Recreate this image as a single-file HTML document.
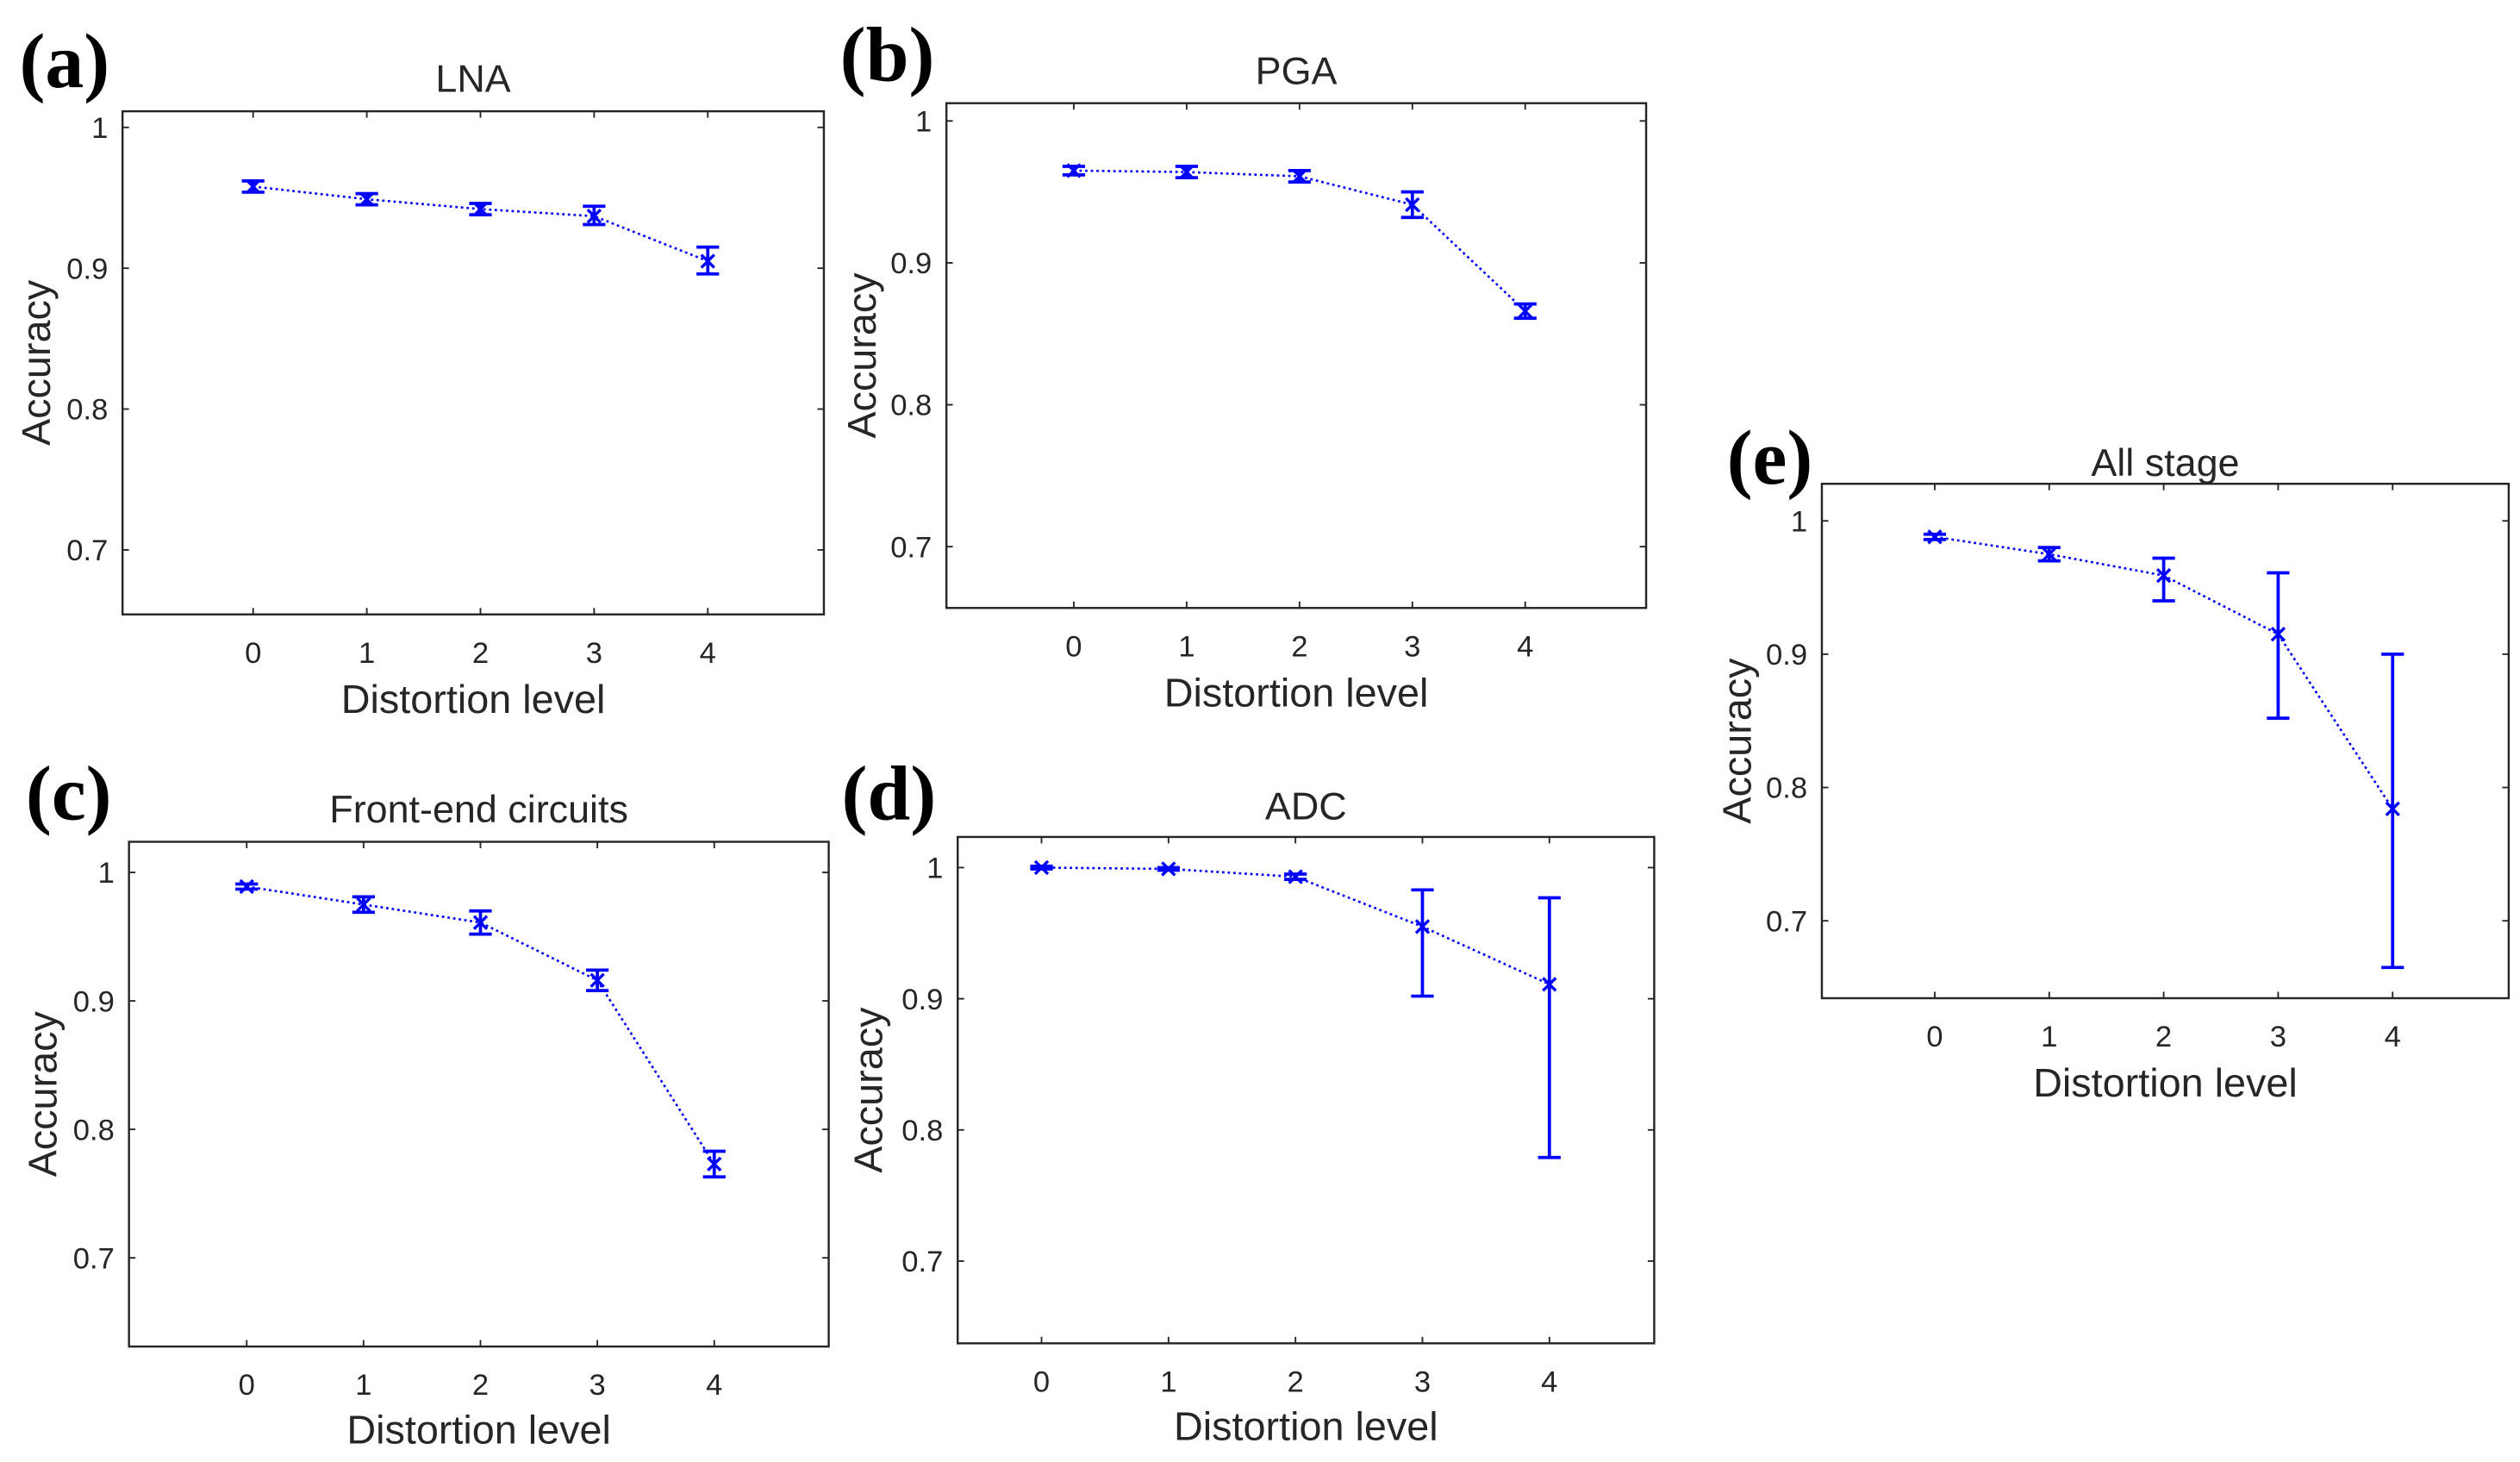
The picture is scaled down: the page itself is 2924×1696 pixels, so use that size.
<!DOCTYPE html>
<html><head><meta charset="utf-8">
<style>
html,body{margin:0;padding:0;background:#fff;}
svg{display:block;}
text{font-family:"Liberation Sans",Arial,sans-serif;fill:#262626;}
.pl{font-family:"Liberation Serif","Times New Roman",serif;font-weight:bold;fill:#000;}
</style></head>
<body>
<svg id="fig" width="2924" height="1696" viewBox="0 0 1563 906.6" preserveAspectRatio="none" xmlns="http://www.w3.org/2000/svg"></svg>
<script>
// ---- data ----
const levels = [0, 1, 2, 3, 4];
const yTicks = [0.7, 0.8, 0.9, 1];
const yTickLabels = ["0.7", "0.8", "0.9", "1"];
const lnaMean = [0.958, 0.949, 0.942, 0.937, 0.905];
const lnaLow  = [0.954, 0.945, 0.938, 0.931, 0.896];
const lnaHigh = [0.962, 0.953, 0.946, 0.944, 0.915];
const pgaMean = [0.965, 0.964, 0.961, 0.941, 0.866];
const pgaLow  = [0.962, 0.960, 0.957, 0.932, 0.861];
const pgaHigh = [0.968, 0.968, 0.965, 0.950, 0.871];
const feMean = [0.989, 0.975, 0.961, 0.916, 0.773];
const feLow  = [0.987, 0.969, 0.952, 0.908, 0.763];
const feHigh = [0.991, 0.981, 0.970, 0.924, 0.783];
const adcMean = [1.000, 0.999, 0.993, 0.955, 0.911];
const adcLow  = [0.999, 0.998, 0.991, 0.902, 0.779];
const adcHigh = [1.001, 1.000, 0.995, 0.983, 0.977];
const allMean = [0.988, 0.975, 0.959, 0.915, 0.784];
const allLow  = [0.986, 0.970, 0.940, 0.852, 0.665];
const allHigh = [0.990, 0.980, 0.972, 0.961, 0.900];

const NS = "http://www.w3.org/2000/svg";
const svg = document.getElementById("fig");
function mk(tag, attrs, parent) {
  const e = document.createElementNS(NS, tag);
  for (const k in attrs) e.setAttribute(k, attrs[k]);
  (parent || svg).appendChild(e);
  return e;
}
function panel(p) {
  const g = mk("g", {});
  
  
  const xs = v => p.x0 + (v - p.xmin) / (p.xmax - p.xmin) * (p.x1 - p.x0);
  const ys = v => p.y1 - (v - p.ymin) / (p.ymax - p.ymin) * (p.y1 - p.y0);
  const box = mk("rect", {x: p.x0, y: p.y0, width: p.x1 - p.x0, height: p.y1 - p.y0, fill: "none", stroke: "#262626", "stroke-width": 1.3}, g);
  
  
  yTicks.forEach((t, i) => {
    const y = ys(t);
    mk("line", {x1: p.x0, x2: p.x0 + 4, y1: y, y2: y, stroke: "#262626", "stroke-width": 1}, g);
    mk("line", {x1: p.x1, x2: p.x1 - 4, y1: y, y2: y, stroke: "#262626", "stroke-width": 1}, g);
    const tl = mk("text", {x: p.x0 - 9, y: y + 6.5, "text-anchor": "end", "font-size": 18.5}, g);
    tl.textContent = yTickLabels[i];
    
    
  });
  levels.forEach(l => {
    const x = xs(l);
    mk("line", {x1: x, x2: x, y1: p.y1, y2: p.y1 - 4, stroke: "#262626", "stroke-width": 1}, g);
    mk("line", {x1: x, x2: x, y1: p.y0, y2: p.y0 + 4, stroke: "#262626", "stroke-width": 1}, g);
    const tl = mk("text", {x: x, y: p.y1 + 30, "text-anchor": "middle", "font-size": 18.5}, g);
    tl.textContent = String(l);
    
    
  });
  const pts = levels.map((l, i) => xs(l) + "," + ys(p.mean[i])).join(" ");
  const line = mk("polyline", {points: pts, fill: "none", stroke: "#0000ff", "stroke-width": 1.4, "stroke-dasharray": "1.5 2"}, g);
  
  
  levels.forEach((l, i) => {
    const x = xs(l), yl = ys(p.low[i]), yh = ys(p.high[i]), ym = ys(p.mean[i]);
    const eg = mk("g", {stroke: "#0000ff", "stroke-width": 2}, g);
    
    
    mk("line", {x1: x, x2: x, y1: yl, y2: yh}, eg);
    mk("line", {x1: x - 7, x2: x + 7, y1: yl, y2: yl}, eg);
    mk("line", {x1: x - 7, x2: x + 7, y1: yh, y2: yh}, eg);
    const m = mk("path", {d: `M${x-4},${ym-4}L${x+4},${ym+4}M${x-4},${ym+4}L${x+4},${ym-4}`, "stroke-width": 1.8}, eg);
    
    
  });
  const t = mk("text", {x: (p.x0 + p.x1) / 2, y: p.ty, "text-anchor": "middle", "font-size": 24, fill: "#000"}, g);
  t.textContent = p.title;
  
  
  const xl = mk("text", {x: (p.x0 + p.x1) / 2, y: p.xly, "text-anchor": "middle", "font-size": 25}, g);
  xl.textContent = "Distortion level";
  
  
  const cy = (p.y0 + p.y1) / 2;
  const yl = mk("text", {x: p.ylx, y: cy, "text-anchor": "middle", "font-size": 25, transform: `rotate(-90 ${p.ylx} ${cy})`}, g);
  yl.textContent = "Accuracy";
  
  
  const pl = mk("text", {x: p.lx, y: p.ly, "font-size": 48, class: "pl"}, g);
  pl.textContent = "(" + p.id + ")";
  
  
}
function yr(y1v, y07, top, bot) {
  const ppu = (y07 - y1v) / 0.3;
  return {ymax: 1 + (y1v - top) / ppu, ymin: 0.7 - (bot - y07) / ppu};
}
function xr(x0v, x4v, left, right) {
  const ppu = (x4v - x0v) / 4;
  return {xmin: -(x0v - left) / ppu, xmax: 4 + (right - x4v) / ppu};
}
const specs = [
  {id: "a", title: "LNA", mean: lnaMean, low: lnaLow, high: lnaHigh, x0: 76, x1: 511, y0: 69, y1: 381, yt: [79, 341], xt: [157, 439], ty: 57, xly: 442, ylx: 31, lx: 12, ly: 54},
  {id: "b", title: "PGA", mean: pgaMean, low: pgaLow, high: pgaHigh, x0: 587, x1: 1021, y0: 64, y1: 377, yt: [75, 339], xt: [666, 946], ty: 52, xly: 438, ylx: 543, lx: 521, ly: 50},
  {id: "c", title: "Front-end circuits", mean: feMean, low: feLow, high: feHigh, x0: 80, x1: 514, y0: 522, y1: 835, yt: [541, 780], xt: [153, 443], ty: 510, xly: 895, ylx: 35, lx: 16, ly: 508},
  {id: "d", title: "ADC", mean: adcMean, low: adcLow, high: adcHigh, x0: 594, x1: 1026, y0: 519, y1: 833, yt: [538, 782], xt: [646, 961], ty: 508, xly: 893, ylx: 547, lx: 522, ly: 508},
  {id: "e", title: "All stage", mean: allMean, low: allLow, high: allHigh, x0: 1130, x1: 1556, y0: 300, y1: 619, yt: [323, 571], xt: [1200, 1484], ty: 295, xly: 680, ylx: 1086, lx: 1071, ly: 300}
];
specs.forEach(s => {
  Object.assign(s, yr(s.yt[0], s.yt[1], s.y0, s.y1), xr(s.xt[0], s.xt[1], s.x0, s.x1));
  panel(s);
});
</script>
</body></html>
